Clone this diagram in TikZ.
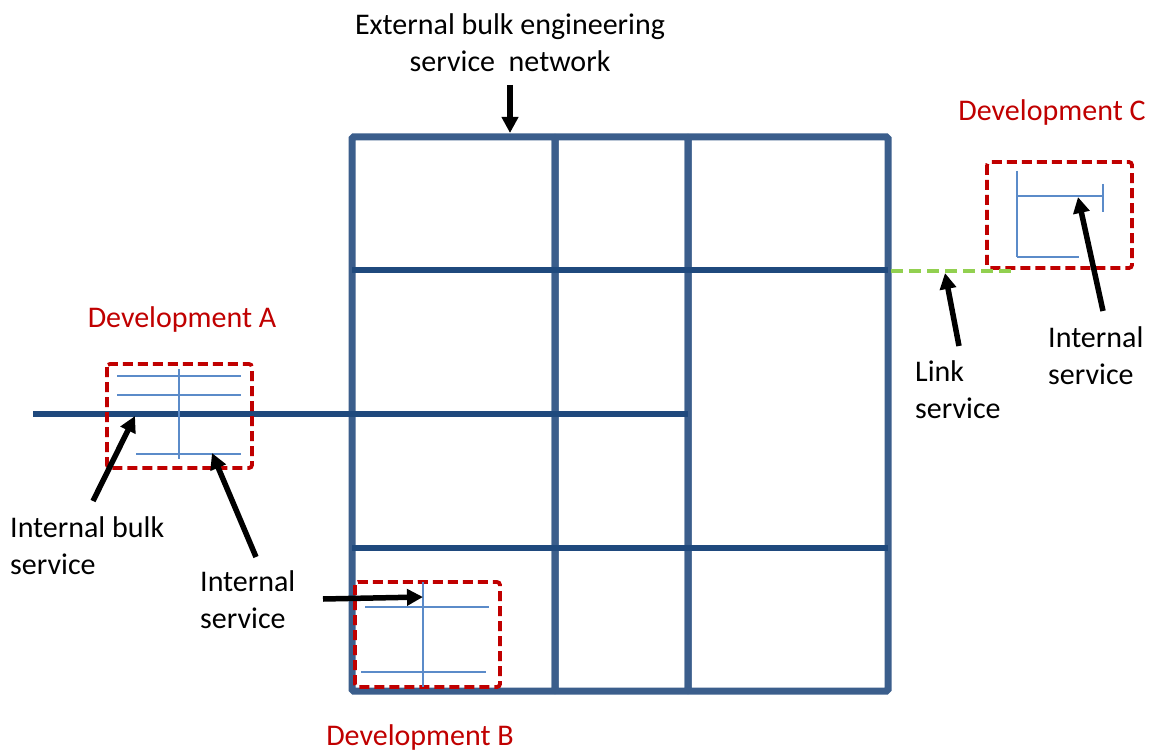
\documentclass[tikz,border=0pt]{standalone}
\usepackage{fontspec}
\setmainfont{Carlito}
\usetikzlibrary{arrows.meta}
\definecolor{netblue}{HTML}{3B5E8C}
\definecolor{bulkblue}{HTML}{1F497D}
\definecolor{svcblue}{HTML}{5B8BC9}
\definecolor{devred}{HTML}{C00000}
\definecolor{linkgreen}{HTML}{92D050}

\begin{document}
\begin{tikzpicture}[
x=1pt, y=-1pt,
  net/.style = {draw=netblue, line width=7pt, rounded corners=1.5pt},% external network blocks
 bulk/.style = {draw=bulkblue, line width=6.5pt},
  svc/.style = {draw=svcblue, line width=1.5pt},% internal services
  dev/.style = {draw=devred, line width=3.8pt, dash pattern=on 10pt off 5pt,
                rounded corners=3pt},
 link/.style = {draw=linkgreen, line width=4.5pt, dash pattern=on 12pt off 6pt},
  lbl/.style = {font=\fontsize{30}{37}\selectfont, inner sep=0pt, align=left},
devlbl/.style = {lbl, text=devred},
  ptr/.style = {-{Triangle[length=16pt,width=16pt]}, line width=5.5pt},
                    ]
\useasboundingbox (0,0) rectangle (1156,751);

% external bulk network
\foreach \xa/\xb in {352/555,555/688,688/888}% <-- column blocks
    \draw[net] (\xa,137) rectangle (\xb,691);
\foreach \y in {270,548}
    \draw[bulk] (352,\y) -- (888,\y);
\draw[bulk] (33,414) -- (688,414);

% development A
\draw[dev] (107,364) rectangle (252,468);
\foreach \y in {376,395}
    \draw[svc] (117,\y) -- (241,\y);
\draw[svc] (179,369) -- (179,459);
\draw[svc] (136,454) -- (241,454);

% development B
\draw[dev] (355,582) rectangle (500,687);
\draw[svc] (423,582) -- (423,687);
\draw[svc] (365,607) -- (489,607);
\draw[svc] (361,672) -- (486,672);

% development C
\draw[dev] (987,162) rectangle (1132,268);
\draw[svc] (1017,171) -- (1017,257);
\draw[svc] (1017,196) -- (1103,196);
\draw[svc] (1103,184) -- (1103,212);
\draw[svc] (1017,257) -- (1079,257);
\draw[link] (891,271) -- (1015,271);

% labels
\node[lbl, align=center] (ext) at (510,43) {External bulk engineering\\service~~network};
\node[devlbl] (devA) at (182,320) {Development A};
\node[devlbl] (devB) at (420,737) {Development B};
\node[devlbl] (devC) at (1052,113) {Development C};
\node[lbl, anchor=west] (bulkA) at (10,546) {Internal bulk\\service};
\node[lbl, anchor=west] (svcA) at (200,600) {Internal\\service};
\node[lbl, anchor=west] (lnk) at (915,390) {Link\\service};
\node[lbl, anchor=west] (svcC) at (1048,356) {Internal\\service};

% pointers
\coordinate (extT) at (510,85);   \coordinate (extH) at (510,133);
\coordinate (bulkT) at (93,501);  \coordinate (bulkH) at (135,416);
\coordinate (svcAT) at (256,557); \coordinate (svcAH) at (212,453);
\coordinate (svcBT) at (323,599); \coordinate (svcBH) at (423,597);
\coordinate (lnkT) at (959,346);  \coordinate (lnkH) at (945,273);
\coordinate (svcCT) at (1103,311); \coordinate (svcCH) at (1078,197);
\foreach \p in {ext,bulk,svcA,svcB,lnk,svcC}
    \draw[ptr] (\p T) -- (\p H);
\end{tikzpicture}
\end{document}
